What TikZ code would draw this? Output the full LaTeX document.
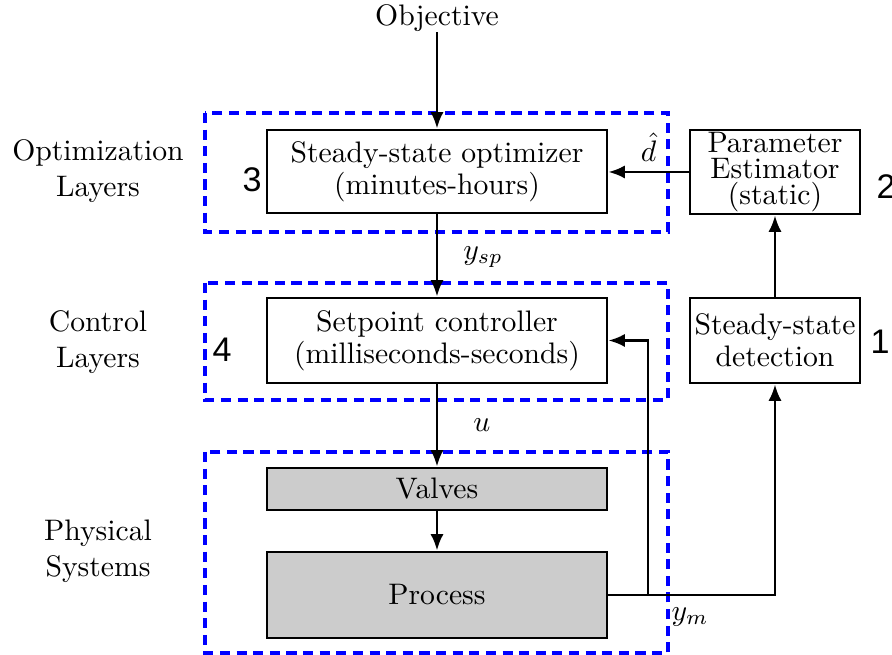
\documentclass[tikz,border=0pt]{standalone}
\usepackage{fontspec}
\newfontfamily\numfont{Liberation Sans}
\usetikzlibrary{arrows.meta}
\def\PX{0.337pt}
\tikzset{
  box/.style={draw=black, line width=1pt, inner sep=0pt, align=center},
  graybox/.style={box, fill=black!20},
  grp/.style={draw=blue, line width=1.1pt, dash pattern=on 3.4pt off 2.2pt},
  arr/.style={line width=0.85pt, -{Latex[length=5.5pt,width=4.4pt]}},
  lbl/.style={align=center, inner sep=0pt},
  num/.style={font=\numfont\fontsize{11.5}{13}\selectfont, inner sep=0pt},
}
\begin{document}
\begin{tikzpicture}[x=0.337pt, y=-0.337pt]
\useasboundingbox (0,0) rectangle (892,655);
% group boxes
\draw[grp] (205,113) rectangle (668,232);
\draw[grp] (205,283) rectangle (668,400);
\draw[grp] (205,452) rectangle (668,653);
% main boxes
\node[lbl] (obj) at (437,18) {Objective};
\node[box, minimum width=340*\PX, minimum height=83*\PX] (opt) at (437,171.5)
  {Steady-state optimizer\\[-1.2pt](minutes-hours)};
\node[box, minimum width=170*\PX, minimum height=84*\PX] (pe) at (775,172)
  {Parameter\\[-3.2pt]Estimator\\[-3.2pt](static)};
\node[box, minimum width=170*\PX, minimum height=85*\PX] (ssd) at (775,340.5)
  {Steady-state\\[-1.2pt]detection};
\node[box, minimum width=340*\PX, minimum height=85*\PX] (sp) at (437,340.5)
  {Setpoint controller\\[-1.2pt](milliseconds-seconds)};
\node[graybox, minimum width=340*\PX, minimum height=42*\PX] (val) at (437,489) {Valves};
\node[graybox, minimum width=340*\PX, minimum height=86*\PX] (proc) at (437,595) {Process};
% side labels
\node[lbl] (l1) at (98,171) {Optimization\\Layers};
\node[lbl] (l2) at (98,342) {Control\\Layers};
\node[lbl] (l3) at (98,551) {Physical\\Systems};
% numbers
\node[num] (n3) at (252,180) {3};
\node[num] (n4) at (222,350) {4};
\node[num] (n2) at (886,187) {2};
\node[num] (n1) at (880,342) {1};
% connectors
\draw[arr] (obj) -- (opt);
\draw[arr] (pe.west) -- node[above, inner sep=3pt] (dh) {$\hat{d}$} (opt.east |- pe.west);
\draw[arr] (opt) -- node[right, pos=0.52, inner sep=0pt, xshift=25*\PX] (ysp) {$y_{sp}$} (sp);
\draw[arr] (sp) -- node[right, pos=0.5, inner sep=0pt, xshift=35*\PX] (u) {$u$} (val);
\draw[arr] (val) -- (proc);
\draw[arr] (ssd) -- (pe);
\coordinate (j) at (648,595);
\draw[arr] (proc.east) -| (ssd.south);
\draw[arr] (j) |- (sp.east);
\node[lbl, anchor=west] (ym) at (671,617) {$y_m$};
\end{tikzpicture}
\end{document}
